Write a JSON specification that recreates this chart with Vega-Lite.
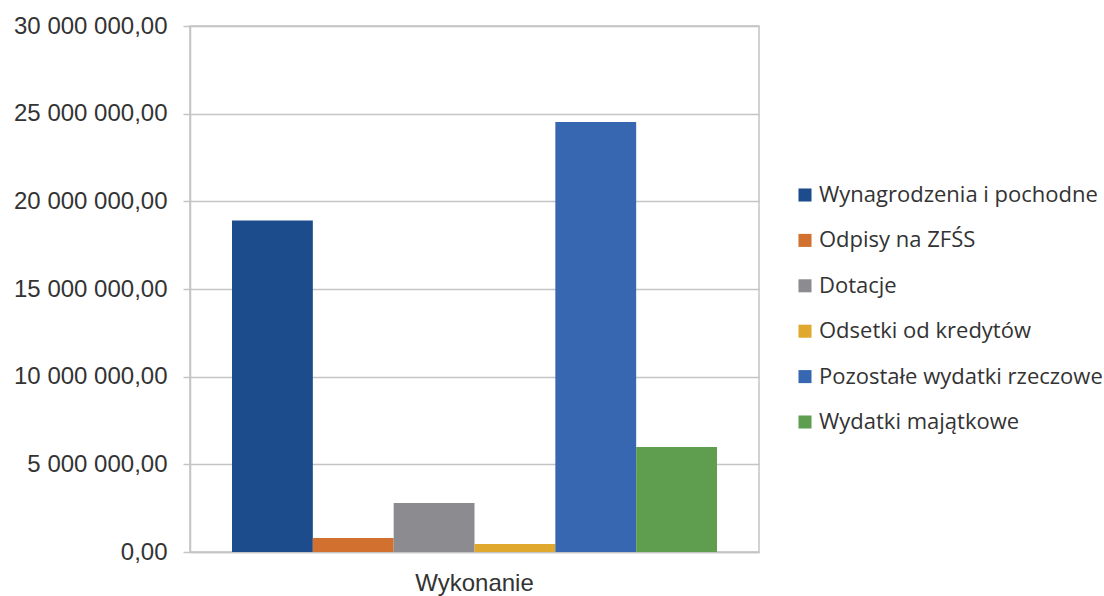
{
  "$schema": "https://vega.github.io/schema/vega-lite/v6.json",
  "width": 569,
  "height": 526,
  "autosize": {"type": "none"},
  "padding": {"left": 190, "top": 26, "right": 345, "bottom": 44},
  "background": "white",
  "config": {
    "locale": {"number": {"decimal": ",", "thousands": " ", "grouping": [3], "currency": ["", ""]}},
    "view": {"stroke": "#c4c4c8", "strokeWidth": 1.5},
    "font": "Liberation Sans"
  },
  "data": {
    "values": [
      {"kategoria": "Wykonanie", "seria": "Wynagrodzenia i pochodne", "wartosc": 18900000},
      {"kategoria": "Wykonanie", "seria": "Odpisy na ZFŚS", "wartosc": 800000},
      {"kategoria": "Wykonanie", "seria": "Dotacje", "wartosc": 2790000},
      {"kategoria": "Wykonanie", "seria": "Odsetki od kredytów", "wartosc": 460000},
      {"kategoria": "Wykonanie", "seria": "Pozostałe wydatki rzeczowe", "wartosc": 24530000},
      {"kategoria": "Wykonanie", "seria": "Wydatki majątkowe", "wartosc": 5990000}
    ]
  },
  "mark": {"type": "bar"},
  "encoding": {
    "x": {
      "field": "kategoria",
      "type": "nominal",
      "scale": {"paddingInner": 0, "paddingOuter": 0.0866},
      "axis": {
        "title": null,
        "labelAngle": 0,
        "labelFont": "Liberation Sans",
        "labelFontSize": 24,
        "labelColor": "#333333",
        "labelPadding": 11,
        "domainColor": "#c4c4c8",
        "domainWidth": 1.5,
        "tickOpacity": 0,
        "tickSize": 8,
        "grid": false
      }
    },
    "xOffset": {
      "field": "seria",
      "type": "nominal",
      "sort": ["Wynagrodzenia i pochodne", "Odpisy na ZFŚS", "Dotacje", "Odsetki od kredytów", "Pozostałe wydatki rzeczowe", "Wydatki majątkowe"],
      "scale": {"paddingInner": 0, "paddingOuter": 0}
    },
    "y": {
      "field": "wartosc",
      "type": "quantitative",
      "scale": {"domain": [0, 30000000], "nice": false},
      "axis": {
        "title": null,
        "values": [0, 5000000, 10000000, 15000000, 20000000, 25000000, 30000000],
        "format": ",.2f",
        "labelFont": "Liberation Sans",
        "labelFontSize": 24,
        "labelColor": "#333333",
        "labelPadding": 16,
        "tickSize": 7,
        "tickColor": "#c4c4c8",
        "tickWidth": 1.5,
        "domainColor": "#c4c4c8",
        "domainWidth": 1.5,
        "gridColor": "#c4c4c8",
        "gridWidth": 1.5
      }
    },
    "color": {
      "field": "seria",
      "type": "nominal",
      "sort": ["Wynagrodzenia i pochodne", "Odpisy na ZFŚS", "Dotacje", "Odsetki od kredytów", "Pozostałe wydatki rzeczowe", "Wydatki majątkowe"],
      "scale": {
        "domain": ["Wynagrodzenia i pochodne", "Odpisy na ZFŚS", "Dotacje", "Odsetki od kredytów", "Pozostałe wydatki rzeczowe", "Wydatki majątkowe"],
        "range": ["#1c4c8c", "#d2702f", "#8c8c90", "#e0a82c", "#3767b1", "#5e9e4e"]
      },
      "legend": {
        "title": null,
        "orient": "none",
        "legendX": 604,
        "legendY": 158,
        "symbolType": "square",
        "symbolSize": 170,
        "symbolStrokeWidth": 0,
        "symbolOpacity": 1,
        "labelFont": "Open Sans",
        "labelFontSize": 22,
        "labelColor": "#333333",
        "labelOffset": 3,
        "labelLimit": 400,
        "rowPadding": 23.4
      }
    }
  }
}
